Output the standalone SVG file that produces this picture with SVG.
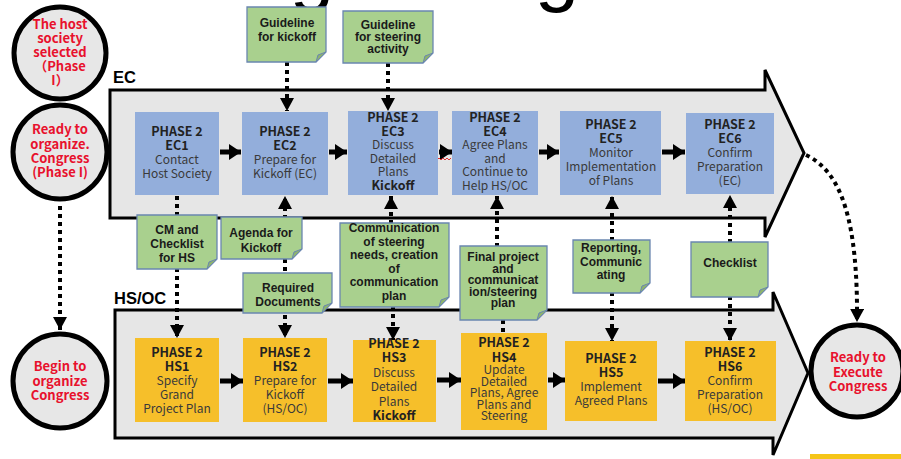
<svg xmlns="http://www.w3.org/2000/svg" width="901" height="459" viewBox="0 0 901 459">
<style>
.bg{fill:#e6e6e6;stroke:#000;stroke-width:3;stroke-linejoin:miter}
.circ{fill:#e7e7e7;stroke:#000;stroke-width:5}
.ctext{font-family:"Noto Sans CJK JP","Liberation Sans",sans-serif;font-weight:bold;font-size:13px;fill:#e8112d;text-anchor:middle}
.ec{fill:#93aedb}
.hs{fill:#f6bf2a}
.bt{font-family:"Noto Sans CJK JP","Liberation Sans",sans-serif;font-size:12px;fill:#3a3a3a;text-anchor:middle}
.bt .b{font-weight:bold;fill:#222;font-size:12.5px}
.note{fill:#a9d08e;stroke:#6a86b0;stroke-width:1.3}
.fold{fill:#8db36e;stroke:#6a86b0;stroke-width:1}
.nt{font-family:"Liberation Sans",Arial,sans-serif;font-weight:bold;font-size:12px;fill:#1a1a1a;text-anchor:middle}
.lbl{font-family:"Liberation Sans",Arial,sans-serif;font-weight:bold;font-size:16.5px;fill:#000}
.dot{fill:none;stroke:#000;stroke-width:4;stroke-dasharray:4 4}
.solid{fill:none;stroke:#000;stroke-width:5}
.ttl{font-family:"Liberation Sans",Arial,sans-serif;font-size:80px;fill:#000;text-anchor:middle}
</style>
<defs>
<marker id="dh" markerUnits="userSpaceOnUse" markerWidth="13" markerHeight="14" refX="13" refY="7" orient="auto"><path d="M0,0 L13,7 L0,14 Z" fill="#000"/></marker>
<marker id="sh" markerUnits="userSpaceOnUse" markerWidth="12" markerHeight="16" refX="12" refY="8" orient="auto"><path d="M0,0 L12,8 L0,16 Z" fill="#000"/></marker>
</defs>

<!-- cropped title fragments (only descenders visible) -->
<text class="ttl" x="312" y="-4">g</text>
<text class="ttl" x="557" y="-4">g</text>

<!-- swimlane arrows -->
<g id="ec-lane">
<path class="bg" d="M110,90 L765,90 L765,70 L804,153 L765,237 L765,218 L110,218 Z"/>
<text class="lbl" x="113" y="83">EC</text>
</g>
<g id="hs-lane">
<path class="bg" d="M115,310 L773,310 L773,292 L808,373 L773,455 L773,438 L115,438 Z"/>
<text class="lbl" x="114" y="304">HS/OC</text>
</g>

<rect x="810" y="454" width="91" height="5" fill="#f5c518"/>

<!-- connectors -->
<g id="connectors">
<path class="dot" d="M60,206 V330" marker-end="url(#dh)"/>
<path class="dot" d="M806,155 C842,172 858,222 857,322" marker-end="url(#dh)"/>
<path class="dot" d="M287,62 V111" marker-end="url(#dh)"/>
<path class="dot" d="M388,63 V111" marker-end="url(#dh)"/>
<path class="dot" d="M177,196 V216"/>
<path class="dot" d="M177,268 V338" marker-end="url(#dh)"/>
<path class="dot" d="M285,259 V196" marker-end="url(#dh)"/>
<path class="dot" d="M285,259 V338" marker-end="url(#dh)"/>
<path class="dot" d="M391,224 V196" marker-end="url(#dh)"/>
<path class="dot" d="M393,306 V340" marker-end="url(#dh)"/>
<path class="dot" d="M497,247 V196" marker-end="url(#dh)"/>
<path class="dot" d="M503,320 V333"/>
<path class="dot" d="M612,241 V196" marker-end="url(#dh)"/>
<path class="dot" d="M612,292 V341" marker-end="url(#dh)"/>
<path class="dot" d="M730,243 V195" marker-end="url(#dh)"/>
<path class="dot" d="M730,296 V341" marker-end="url(#dh)"/>
<path class="solid" d="M220,152 H241" marker-end="url(#sh)"/>
<path class="solid" d="M329,152 H347" marker-end="url(#sh)"/>
<path class="solid" d="M439,152 H452" marker-end="url(#sh)"/>
<path class="solid" d="M539,152 H559" marker-end="url(#sh)"/>
<path class="solid" d="M662,152 H685" marker-end="url(#sh)"/>
<path class="solid" d="M220,381 H243" marker-end="url(#sh)"/>
<path class="solid" d="M328,381 H353" marker-end="url(#sh)"/>
<path class="solid" d="M437,380 H461" marker-end="url(#sh)"/>
<path class="solid" d="M548,380 H565" marker-end="url(#sh)"/>
<path class="solid" d="M658,381 H685" marker-end="url(#sh)"/>
<path d="M437,160 l2,-2 l2,2 l2,-2 l2,2 l2,-2 l2,2 l2,-2" fill="none" stroke="#e03030" stroke-width="1"/>
</g>

<!-- circles -->
<g id="c-host-selected">
<circle class="circ" cx="60" cy="53" r="46"/>
<text class="ctext"><tspan x="60" y="29">The host</tspan><tspan x="60" y="43">society</tspan><tspan x="60" y="57">selected</tspan><tspan x="60" y="71">（Phase</tspan><tspan x="60" y="85">I）</tspan></text>
</g>
<g id="c-ready-organize">
<circle class="circ" cx="60" cy="152" r="47"/>
<text class="ctext"><tspan x="60" y="134">Ready to</tspan><tspan x="60" y="148.5">organize.</tspan><tspan x="60" y="163">Congress</tspan><tspan x="60" y="177">(Phase I)</tspan></text>
</g>
<g id="c-begin">
<circle class="circ" cx="60" cy="381" r="47"/>
<text class="ctext"><tspan x="60" y="371">Begin to</tspan><tspan x="60" y="385.5">organize</tspan><tspan x="60" y="400">Congress</tspan></text>
</g>
<g id="c-execute">
<circle class="circ" cx="857" cy="371" r="46"/>
<text class="ctext"><tspan x="858" y="362">Ready to</tspan><tspan x="858" y="376.5">Execute</tspan><tspan x="858" y="391">Congress</tspan></text>
</g>

<!-- EC boxes -->
<g id="ec1"><rect class="ec" x="135" y="112" width="84" height="83"/>
<text class="bt"><tspan class="b" x="177" y="136">PHASE 2</tspan><tspan class="b" x="177" y="150">EC1</tspan><tspan x="177" y="164">Contact</tspan><tspan x="177" y="178">Host Society</tspan></text></g>
<g id="ec2"><rect class="ec" x="242" y="112" width="86" height="83"/>
<text class="bt"><tspan class="b" x="285" y="136">PHASE 2</tspan><tspan class="b" x="285" y="150">EC2</tspan><tspan x="285" y="164">Prepare for</tspan><tspan x="285" y="178">Kickoff (EC)</tspan></text></g>
<g id="ec3"><rect class="ec" x="348" y="111" width="90" height="84"/>
<text class="bt"><tspan class="b" x="393" y="122">PHASE 2</tspan><tspan class="b" x="393" y="135.5">EC3</tspan><tspan x="393" y="149">Discuss</tspan><tspan x="393" y="162.5">Detailed</tspan><tspan x="393" y="176">Plans</tspan><tspan class="b" x="393" y="189.5">Kickoff</tspan></text></g>
<g id="ec4"><rect class="ec" x="452" y="111" width="86" height="84"/>
<text class="bt"><tspan class="b" x="495" y="122">PHASE 2</tspan><tspan class="b" x="495" y="135.5">EC4</tspan><tspan x="495" y="149">Agree Plans</tspan><tspan x="495" y="162.5">and</tspan><tspan x="495" y="176">Continue to</tspan><tspan x="495" y="189.5">Help HS/OC</tspan></text></g>
<g id="ec5"><rect class="ec" x="560" y="111" width="101" height="84"/>
<text class="bt"><tspan class="b" x="611" y="129">PHASE 2</tspan><tspan class="b" x="611" y="143">EC5</tspan><tspan x="611" y="157">Monitor</tspan><tspan x="611" y="171">Implementation</tspan><tspan x="611" y="185">of Plans</tspan></text></g>
<g id="ec6"><rect class="ec" x="686" y="113" width="88" height="81"/>
<text class="bt"><tspan class="b" x="730" y="129">PHASE 2</tspan><tspan class="b" x="730" y="143">EC6</tspan><tspan x="730" y="157">Confirm</tspan><tspan x="730" y="171">Preparation</tspan><tspan x="730" y="185">(EC)</tspan></text></g>

<!-- HS boxes -->
<g id="hs1"><rect class="hs" x="135" y="338" width="84" height="84"/>
<text class="bt"><tspan class="b" x="177" y="357">PHASE 2</tspan><tspan class="b" x="177" y="371">HS1</tspan><tspan x="177" y="385">Specify</tspan><tspan x="177" y="399">Grand</tspan><tspan x="177" y="413">Project Plan</tspan></text></g>
<g id="hs2"><rect class="hs" x="243" y="338" width="84" height="84"/>
<text class="bt"><tspan class="b" x="285" y="357">PHASE 2</tspan><tspan class="b" x="285" y="371">HS2</tspan><tspan x="285" y="385">Prepare for</tspan><tspan x="285" y="399">Kickoff</tspan><tspan x="285" y="413">(HS/OC)</tspan></text></g>
<g id="hs3"><rect class="hs" x="353" y="340" width="83" height="82"/>
<text class="bt"><tspan class="b" x="394" y="348">PHASE 2</tspan><tspan class="b" x="394" y="362.4">HS3</tspan><tspan x="394" y="376.8">Discuss</tspan><tspan x="394" y="391.2">Detailed</tspan><tspan x="394" y="405.6">Plans</tspan><tspan class="b" x="394" y="420">Kickoff</tspan></text></g>
<g id="hs4"><rect class="hs" x="461" y="333" width="86" height="97"/>
<text class="bt"><tspan class="b" x="504" y="347">PHASE 2</tspan><tspan class="b" x="504" y="362">HS4</tspan><tspan x="504" y="374">Update</tspan><tspan x="504" y="385.5">Detailed</tspan><tspan x="504" y="397">Plans, Agree</tspan><tspan x="504" y="408.5">Plans and</tspan><tspan x="504" y="420">Steering</tspan></text></g>
<g id="hs5"><rect class="hs" x="565" y="341" width="92" height="80"/>
<text class="bt"><tspan class="b" x="611" y="363">PHASE 2</tspan><tspan class="b" x="611" y="377">HS5</tspan><tspan x="611" y="391">Implement</tspan><tspan x="611" y="405">Agreed Plans</tspan></text></g>
<g id="hs6"><rect class="hs" x="685" y="341" width="91" height="80"/>
<text class="bt"><tspan class="b" x="730" y="357">PHASE 2</tspan><tspan class="b" x="730" y="371">HS6</tspan><tspan x="730" y="385">Confirm</tspan><tspan x="730" y="399">Preparation</tspan><tspan x="730" y="413">(HS/OC)</tspan></text></g>

<!-- notes -->
<g id="n-guide-kickoff">
<path class="note" d="M247,7 H326 V52 L316,62 H247 Z"/><path class="fold" d="M316,62 L318,55 L326,52 Z"/>
<text class="nt"><tspan x="287" y="27">Guideline</tspan><tspan x="287" y="41">for kickoff</tspan></text>
</g>
<g id="n-guide-steering">
<path class="note" d="M343,11 H433 V53 L423,63 H343 Z"/><path class="fold" d="M423,63 L425,56 L433,53 Z"/>
<text class="nt"><tspan x="388" y="29">Guideline</tspan><tspan x="388" y="41">for steering</tspan><tspan x="388" y="53">activity</tspan></text>
</g>
<g id="n-cm-checklist">
<path class="note" d="M137,215 H217 V259 L207,269 H137 Z"/><path class="fold" d="M207,269 L209,262 L217,259 Z"/>
<text class="nt"><tspan x="177" y="234">CM and</tspan><tspan x="177" y="248">Checklist</tspan><tspan x="177" y="262">for HS</tspan></text>
</g>
<g id="n-agenda">
<path class="note" d="M221,217 H302 V249 L292,259 H221 Z"/><path class="fold" d="M292,259 L294,252 L302,249 Z"/>
<text class="nt"><tspan x="261" y="237">Agenda for</tspan><tspan x="261" y="252">Kickoff</tspan></text>
</g>
<g id="n-required">
<path class="note" d="M243,273 H332 V303 L322,313 H243 Z"/><path class="fold" d="M322,313 L324,306 L332,303 Z"/>
<text class="nt"><tspan x="288" y="292">Required</tspan><tspan x="288" y="306">Documents</tspan></text>
</g>
<g id="n-communication">
<path class="note" d="M340,223 H449 V297 L439,307 H340 Z"/><path class="fold" d="M439,307 L441,300 L449,297 Z"/>
<text class="nt"><tspan x="394" y="232">Communication</tspan><tspan x="394" y="245.5">of steering</tspan><tspan x="394" y="259">needs, creation</tspan><tspan x="394" y="272.5">of</tspan><tspan x="394" y="286">communication</tspan><tspan x="394" y="299.5">plan</tspan></text>
</g>
<g id="n-final">
<path class="note" d="M460,246 H547 V310 L537,320 H460 Z"/><path class="fold" d="M537,320 L539,313 L547,310 Z"/>
<text class="nt"><tspan x="503" y="261">Final project</tspan><tspan x="503" y="272.5">and</tspan><tspan x="503" y="284">communicat</tspan><tspan x="503" y="295.5">ion/steering</tspan><tspan x="503" y="307">plan</tspan></text>
</g>
<g id="n-reporting">
<path class="note" d="M573,240 H650 V283 L640,293 H573 Z"/><path class="fold" d="M640,293 L642,286 L650,283 Z"/>
<text class="nt"><tspan x="611" y="252">Reporting,</tspan><tspan x="611" y="265.5">Communic</tspan><tspan x="611" y="279">ating</tspan></text>
</g>
<g id="n-checklist">
<path class="note" d="M691,242 H768 V287 L758,297 H691 Z"/><path class="fold" d="M758,297 L760,290 L768,287 Z"/>
<text class="nt"><tspan x="730" y="267">Checklist</tspan></text>
</g>
</svg>
